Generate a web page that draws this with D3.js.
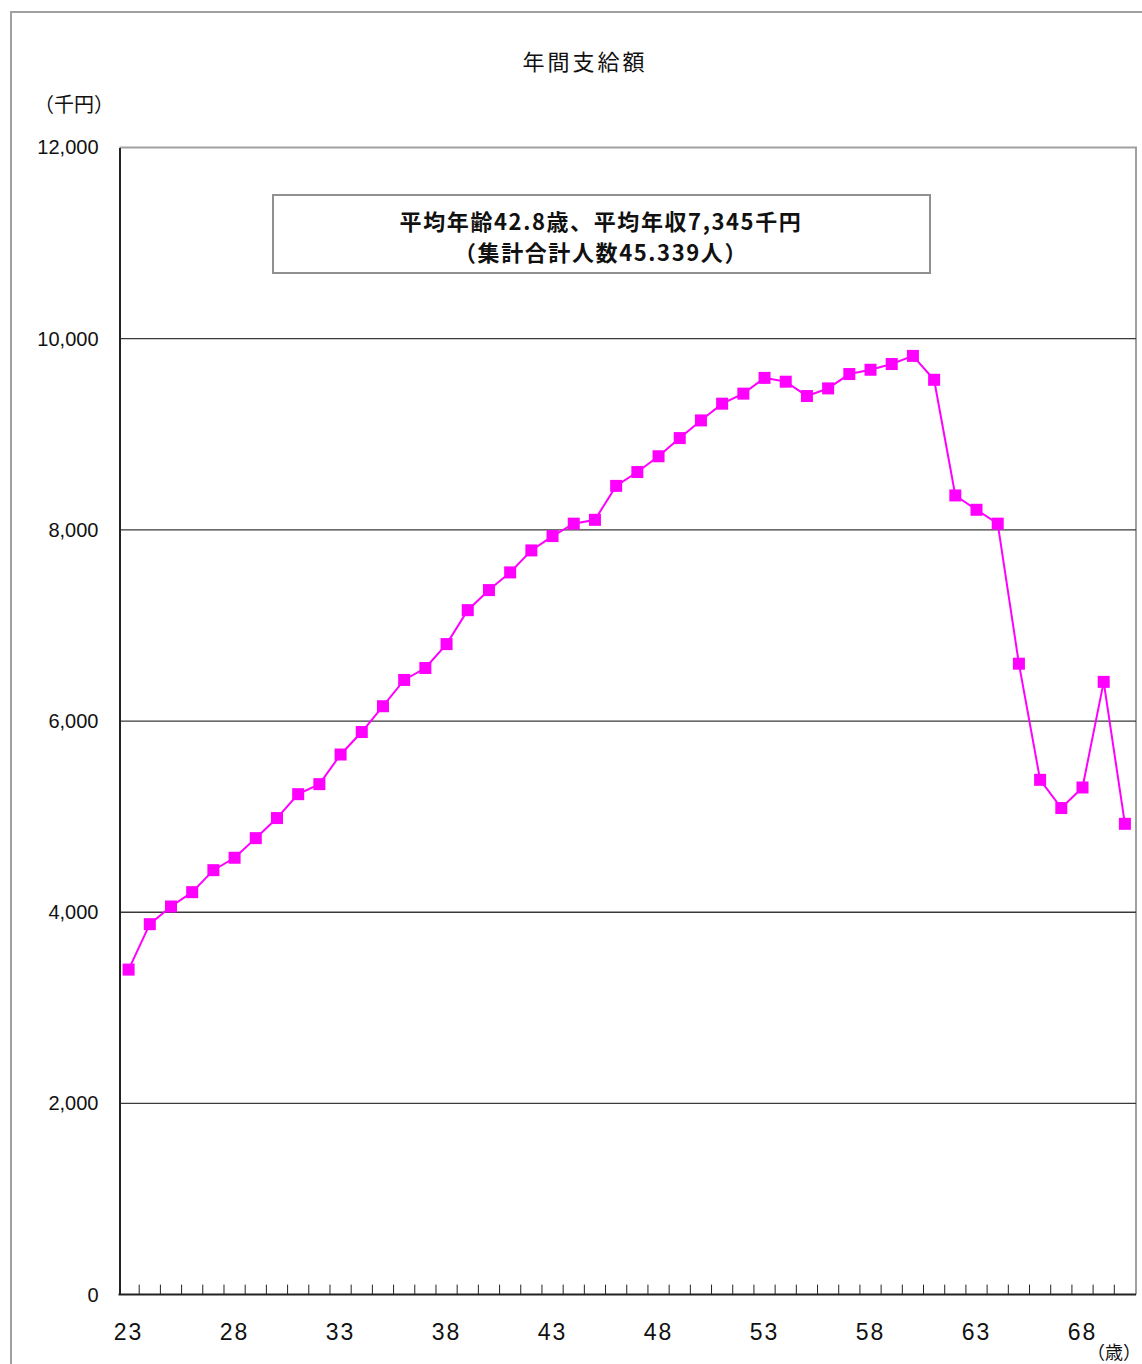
<!DOCTYPE html>
<html lang="ja">
<head>
<meta charset="utf-8">
<script src="https://cdn.jsdelivr.net/npm/d3@7"></script>
<style>
  html, body { margin: 0; padding: 0; background: #fff; }
  svg { display: block; }
  .jp { font-family: "Noto Sans CJK JP", "Noto Sans", sans-serif; }
  .num { font-family: "Liberation Sans", Arial, sans-serif; }
  .narrow { font-family: "Liberation Sans Narrow", "Liberation Sans", sans-serif; }
</style>
</head>
<body>
<script>
// Ages (years) on the horizontal axis
const ages = d3.range(23, 71);
// Annual payment by age, thousand yen
const payments = [
  3400, 3875, 4060, 4210, 4440, 4570, 4775, 4985, 5235, 5340,
  5650, 5885, 6155, 6430, 6555, 6805, 7160, 7370, 7555, 7785,
  7935, 8065, 8105, 8460, 8605, 8770, 8960, 9145, 9320, 9425,
  9590, 9550, 9400, 9480, 9630, 9675, 9735, 9820, 9570, 8360,
  8210, 8065, 6600, 5385, 5090, 5305, 6410, 4925
];
// Labelled ages and value ticks
const xTickLabels = [23, 28, 33, 38, 43, 48, 53, 58, 63, 68];
const yTicks = [0, 2000, 4000, 6000, 8000, 10000, 12000];

const chartTitle = "年間支給額";
const yUnit = "（千円）";
const xUnit = "（歳）";
const noteLines = ["平均年齢42.8歳、平均年収7,345千円", "（集計合計人数45.339人）"];

const W = 1142, H = 1364;
const plot = { left: 119.5, right: 1136, top: 147.5, bottom: 1294.6 };

const svg = d3.select("body").append("svg")
  .attr("width", W).attr("height", H);

// outer chart frame
svg.append("rect")
  .attr("x", 11).attr("y", 12)
  .attr("width", 1200).attr("height", 1400)
  .attr("fill", "#fff")
  .attr("stroke", "#a0a0a0").attr("stroke-width", 2);

const x = d3.scaleBand()
  .domain(ages)
  .range([118, 1135.5])
  .paddingInner(0).paddingOuter(0);

const y = d3.scaleLinear()
  .domain([0, 12000])
  .range([plot.bottom, plot.top]);

// plot-area frame (top and right edges)
svg.append("path")
  .attr("d", `M${plot.left},${plot.top}H${plot.right}V${plot.bottom}`)
  .attr("fill", "none")
  .attr("stroke", "#a0a0a0").attr("stroke-width", 2);

// horizontal gridlines
svg.append("g")
  .selectAll("line")
  .data(yTicks.filter(v => v > 0 && v < 12000))
  .join("line")
  .attr("x1", plot.left).attr("x2", plot.right)
  .attr("y1", d => y(d)).attr("y2", d => y(d))
  .attr("stroke", "#3a3a3a").attr("stroke-width", 1.3);

// value axis
const yAxis = d3.axisLeft(y)
  .tickValues(yTicks)
  .tickSize(0)
  .tickPadding(21)
  .tickFormat(d3.format(","));
const gy = svg.append("g")
  .attr("transform", `translate(${plot.left},0)`)
  .call(yAxis);
gy.select(".domain").attr("stroke", "#222").attr("stroke-width", 2);
gy.selectAll("text")
  .attr("class", "num")
  .attr("font-size", 20)
  .attr("fill", "#111");

// category axis: ticks on category boundaries, pointing inward
const boundaries = ages.slice(1).map(a => x(a));
svg.append("g")
  .selectAll("line")
  .data(boundaries)
  .join("line")
  .attr("x1", d => d).attr("x2", d => d)
  .attr("y1", plot.bottom - 10).attr("y2", plot.bottom)
  .attr("stroke", "#222").attr("stroke-width", 1);
svg.append("line")
  .attr("x1", plot.left - 1).attr("x2", plot.right)
  .attr("y1", plot.bottom).attr("y2", plot.bottom)
  .attr("stroke", "#222").attr("stroke-width", 2);

svg.append("g")
  .selectAll("text")
  .data(xTickLabels)
  .join("text")
  .attr("class", "narrow")
  .attr("x", d => x(d) + x.bandwidth() / 2)
  .attr("y", 1340)
  .attr("text-anchor", "middle")
  .attr("font-size", 23)
  .attr("letter-spacing", 2)
  .attr("fill", "#111")
  .text(d => d);

// series line and square markers
const line = d3.line()
  .x((d, i) => x(ages[i]) + x.bandwidth() / 2)
  .y(d => y(d));

svg.append("path")
  .datum(payments)
  .attr("d", line)
  .attr("fill", "none")
  .attr("stroke", "#ff00ff")
  .attr("stroke-width", 2);

const ms = 12;
svg.append("g")
  .selectAll("rect")
  .data(payments)
  .join("rect")
  .attr("x", (d, i) => x(ages[i]) + x.bandwidth() / 2 - ms / 2)
  .attr("y", d => y(d) - ms / 2)
  .attr("width", ms).attr("height", ms)
  .attr("fill", "#ff00ff");

// title and unit labels
svg.append("text")
  .attr("class", "jp")
  .attr("x", 585).attr("y", 70)
  .attr("text-anchor", "middle")
  .attr("font-size", 22)
  .attr("letter-spacing", 3)
  .attr("fill", "#111")
  .text(chartTitle);

svg.append("text")
  .attr("class", "jp")
  .attr("x", 74).attr("y", 112)
  .attr("text-anchor", "middle")
  .attr("font-size", 20)
  .attr("fill", "#111")
  .text(yUnit);

svg.append("text")
  .attr("class", "jp")
  .attr("x", 1114).attr("y", 1359)
  .attr("text-anchor", "middle")
  .attr("font-size", 18)
  .attr("fill", "#111")
  .text(xUnit);

// summary box
svg.append("rect")
  .attr("x", 273).attr("y", 195)
  .attr("width", 657).attr("height", 78)
  .attr("fill", "#fff")
  .attr("stroke", "#909090").attr("stroke-width", 2);

svg.append("g")
  .selectAll("text")
  .data(noteLines)
  .join("text")
  .attr("class", "jp")
  .attr("x", 601)
  .attr("y", (d, i) => 219.5 + i * 31)
  .attr("dominant-baseline", "central")
  .attr("text-anchor", "middle")
  .attr("font-size", 22)
  .attr("letter-spacing", 1.6)
  .attr("font-weight", "bold")
  .attr("fill", "#111")
  .text(d => d);
</script>
</body>
</html>
